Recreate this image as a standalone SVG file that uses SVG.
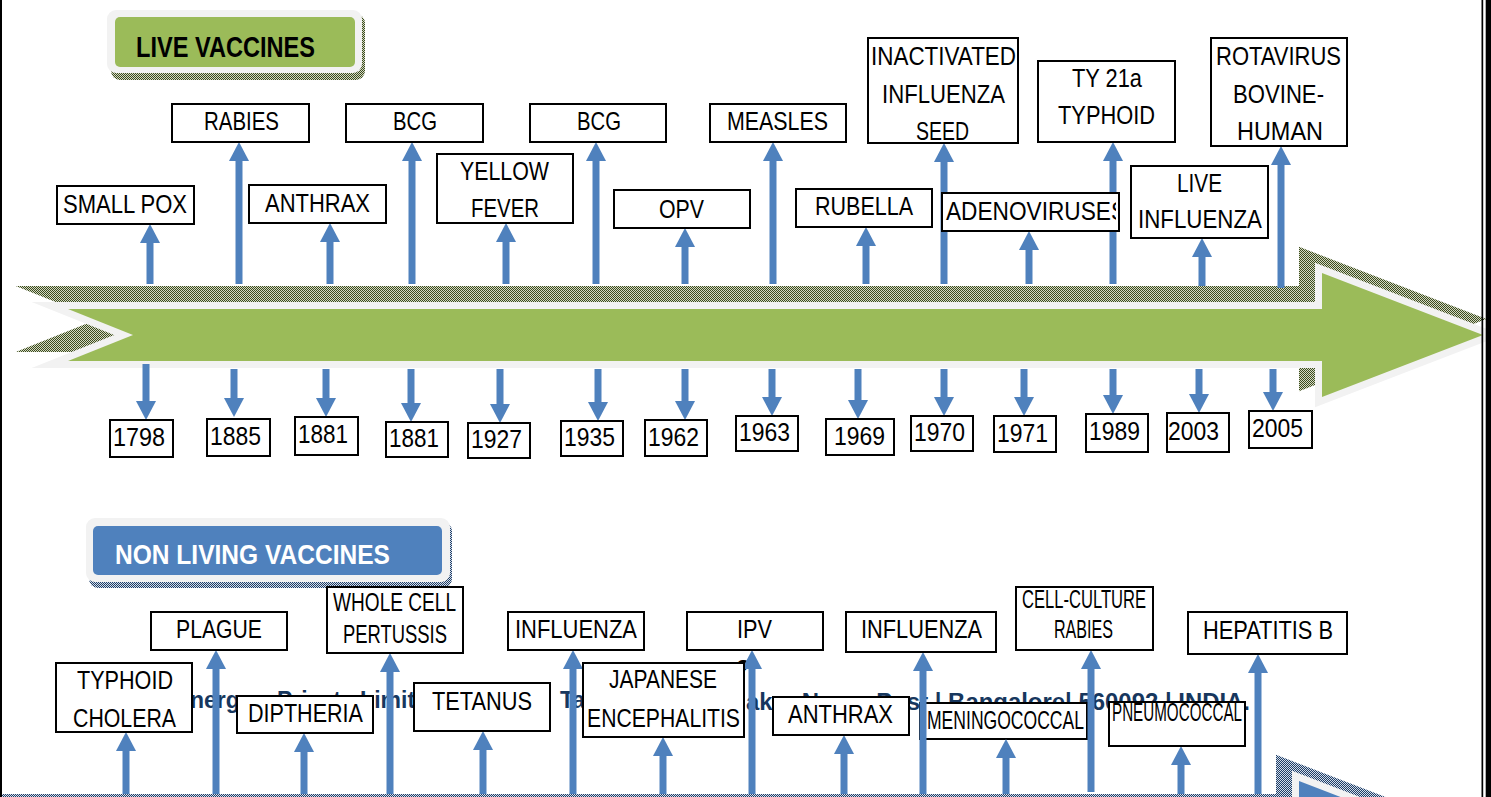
<svg xmlns="http://www.w3.org/2000/svg" width="1491" height="797" viewBox="0 0 1491 797">
<defs>
<style>
.bx{fill:#fff;stroke:#000;stroke-width:2}
.t{font-family:"Liberation Sans",Arial,sans-serif;font-size:25px;fill:#000}
.y{font-size:26px}
.c{stroke:#4f81bd;stroke-width:7;fill:none;marker-end:url(#ah)}
.wm{font-family:"Liberation Sans",Arial,sans-serif;font-size:23px;font-weight:bold;fill:#17375e}
.h{font-family:"Liberation Sans",Arial,sans-serif;font-weight:bold}
</style>
<pattern id="pg" width="2" height="2" patternUnits="userSpaceOnUse"><rect width="2" height="2" fill="#d4dac4"/><rect width="1" height="1" fill="#3c4a1e"/><rect x="1" y="1" width="1" height="1" fill="#3c4a1e"/></pattern>
<pattern id="pb" width="2" height="2" patternUnits="userSpaceOnUse"><rect width="2" height="2" fill="#d4dcea"/><rect width="1" height="1" fill="#1f3f66"/><rect x="1" y="1" width="1" height="1" fill="#1f3f66"/></pattern>
<marker id="ah" viewBox="0 -10 19 20" refX="1" refY="0" markerWidth="19" markerHeight="20" markerUnits="userSpaceOnUse" orient="auto"><path d="M0,-10 L19,0 L0,10 Z" fill="#4f81bd"/></marker>
<clipPath id="clipAdeno"><rect x="942" y="193" width="174" height="38"/></clipPath>
<path id="tl" d="M68,309 L1322,309 L1322,273 L1483,335 L1322,397 L1322,361 L68,361 L133,335 Z"/>
</defs>

<rect width="1491" height="797" fill="#fff"/>

<g id="watermark">
<text class="wm" x="190" y="708">nerg</text>
<text class="wm" x="277" y="708">Private Limited</text>
<text class="wm" x="560" y="708">Ta</text>
<text class="wm" x="746" y="710" textLength="504" lengthAdjust="spacingAndGlyphs">aker Nagar Post | Bangalore| 560092 | INDIA.</text>
<text x="736" y="677" font-family="Liberation Sans, Arial, sans-serif" font-size="24" font-weight="bold" fill="#000">?</text>
</g>

<g id="header-live">
<rect x="111" y="14" width="254" height="66" rx="9" fill="url(#pg)"/>
<rect x="107" y="10" width="255" height="63" rx="9" fill="#f2f2f2"/>
<rect x="115" y="17" width="240" height="50" rx="5" fill="#9bbb59"/>
<text class="h" x="136" y="57" font-size="29" fill="#000" textLength="179" lengthAdjust="spacingAndGlyphs">LIVE VACCINES</text>
</g>
<g id="header-nonliving">
<rect x="89" y="522" width="363" height="66" rx="9" fill="url(#pb)"/>
<rect x="86" y="518" width="364" height="64" rx="9" fill="#f2f2f2"/>
<rect x="93" y="526" width="349" height="49" rx="5" fill="#4f81bd"/>
<text class="h" x="115" y="564" font-size="27" fill="#fff" textLength="275" lengthAdjust="spacingAndGlyphs">NON LIVING VACCINES</text>
</g>

<g id="timeline-live">
<use href="#tl" transform="translate(-16,-16)" fill="url(#pg)" stroke="url(#pg)" stroke-width="14" stroke-miterlimit="10"/>
<use href="#tl" fill="#9bbb59" stroke="#f2f2f2" stroke-width="14" stroke-miterlimit="10" paint-order="stroke"/>
</g>

<g id="n-meningococcal">
<rect class="bx" x="920" y="703" width="167" height="36"/>
<text class="t" x="927" y="729" font-size="22" textLength="157" lengthAdjust="spacingAndGlyphs">MENINGOCOCCAL</text>
</g>

<g id="connectors">
<line class="c" x1="150" y1="284" x2="150" y2="242"/>
<line class="c" x1="239" y1="284" x2="239" y2="160"/>
<line class="c" x1="330" y1="284" x2="330" y2="241"/>
<line class="c" x1="412" y1="284" x2="412" y2="160"/>
<line class="c" x1="506" y1="284" x2="506" y2="241"/>
<line class="c" x1="596" y1="284" x2="596" y2="160"/>
<line class="c" x1="685" y1="284" x2="685" y2="246"/>
<line class="c" x1="773" y1="284" x2="773" y2="160"/>
<line class="c" x1="866" y1="284" x2="866" y2="245"/>
<line class="c" x1="944" y1="284" x2="944" y2="161"/>
<line class="c" x1="1029" y1="284" x2="1029" y2="249"/>
<line class="c" x1="1113" y1="284" x2="1113" y2="160"/>
<line class="c" x1="1202" y1="286" x2="1202" y2="256"/>
<line class="c" x1="1281" y1="288" x2="1281" y2="164"/>

<line class="c" x1="146" y1="364" x2="146" y2="402"/>
<line class="c" x1="234" y1="369" x2="234" y2="399"/>
<line class="c" x1="326" y1="369" x2="326" y2="399"/>
<line class="c" x1="411" y1="369" x2="411" y2="404"/>
<line class="c" x1="500" y1="369" x2="500" y2="405"/>
<line class="c" x1="598" y1="369" x2="598" y2="403"/>
<line class="c" x1="685" y1="369" x2="685" y2="402"/>
<line class="c" x1="772" y1="369" x2="772" y2="398"/>
<line class="c" x1="858" y1="369" x2="858" y2="401"/>
<line class="c" x1="944" y1="369" x2="944" y2="398"/>
<line class="c" x1="1024" y1="369" x2="1024" y2="398"/>
<line class="c" x1="1113" y1="369" x2="1113" y2="396"/>
<line class="c" x1="1199" y1="369" x2="1199" y2="395"/>
<line class="c" x1="1273" y1="369" x2="1273" y2="393"/>

<line class="c" x1="126" y1="795" x2="126" y2="750"/>
<line class="c" x1="216" y1="795" x2="216" y2="668"/>
<line class="c" x1="304" y1="795" x2="304" y2="751"/>
<line class="c" x1="390" y1="795" x2="390" y2="671"/>
<line class="c" x1="483" y1="795" x2="483" y2="749"/>
<line class="c" x1="573" y1="795" x2="573" y2="668"/>
<line class="c" x1="663" y1="797" x2="663" y2="755"/>
<line class="c" x1="752" y1="795" x2="752" y2="668"/>
<line class="c" x1="844" y1="797" x2="844" y2="753"/>
<line class="c" x1="923" y1="795" x2="923" y2="670"/>
<line class="c" x1="1006" y1="797" x2="1006" y2="757"/>
<line class="c" x1="1091" y1="792" x2="1091" y2="668"/>
<line class="c" x1="1181" y1="797" x2="1181" y2="764"/>
<line class="c" x1="1258" y1="797" x2="1258" y2="672"/>
</g>

<g id="n-smallpox"><rect class="bx" x="57" y="186" width="137" height="38"/><text class="t" x="63" y="213" textLength="124" lengthAdjust="spacingAndGlyphs">SMALL POX</text></g>
<g id="n-rabies"><rect class="bx" x="172" y="104" width="137" height="38"/><text class="t" x="204" y="130" textLength="75" lengthAdjust="spacingAndGlyphs">RABIES</text></g>
<g id="n-anthrax"><rect class="bx" x="249" y="185" width="137" height="38"/><text class="t" x="265" y="212" textLength="105" lengthAdjust="spacingAndGlyphs">ANTHRAX</text></g>
<g id="n-bcg1"><rect class="bx" x="346" y="104" width="137" height="38"/><text class="t" x="393" y="130" textLength="44" lengthAdjust="spacingAndGlyphs">BCG</text></g>
<g id="n-yellowfever"><rect class="bx" x="437" y="154" width="136" height="69"/><text class="t" x="460" y="180" textLength="89" lengthAdjust="spacingAndGlyphs">YELLOW</text><text class="t" x="471" y="217" textLength="68" lengthAdjust="spacingAndGlyphs">FEVER</text></g>
<g id="n-bcg2"><rect class="bx" x="530" y="104" width="136" height="38"/><text class="t" x="577" y="130" textLength="44" lengthAdjust="spacingAndGlyphs">BCG</text></g>
<g id="n-opv"><rect class="bx" x="614" y="190" width="136" height="38"/><text class="t" x="659" y="218" textLength="45" lengthAdjust="spacingAndGlyphs">OPV</text></g>
<g id="n-measles"><rect class="bx" x="710" y="104" width="136" height="38"/><text class="t" x="727" y="130" textLength="101" lengthAdjust="spacingAndGlyphs">MEASLES</text></g>
<g id="n-rubella"><rect class="bx" x="796" y="189" width="136" height="38"/><text class="t" x="815" y="215" textLength="98" lengthAdjust="spacingAndGlyphs">RUBELLA</text></g>
<g id="n-inactivated"><rect class="bx" x="868" y="38" width="150" height="105"/><text class="t" x="871" y="65" textLength="145" lengthAdjust="spacingAndGlyphs">INACTIVATED</text><text class="t" x="882" y="103" textLength="123" lengthAdjust="spacingAndGlyphs">INFLUENZA</text><text class="t" x="916" y="140" textLength="53" lengthAdjust="spacingAndGlyphs">SEED</text></g>
<g id="n-adenoviruses"><rect class="bx" x="942" y="193" width="177" height="38"/><text class="t" x="946" y="220" textLength="180" lengthAdjust="spacingAndGlyphs" clip-path="url(#clipAdeno)">ADENOVIRUSES</text></g>
<g id="n-ty21a"><rect class="bx" x="1038" y="61" width="137" height="81"/><text class="t" x="1072" y="87" textLength="70" lengthAdjust="spacingAndGlyphs">TY 21a</text><text class="t" x="1058" y="124" textLength="97" lengthAdjust="spacingAndGlyphs">TYPHOID</text></g>
<g id="n-liveinfluenza"><rect class="bx" x="1131" y="166" width="137" height="72"/><text class="t" x="1177" y="192" textLength="45" lengthAdjust="spacingAndGlyphs">LIVE</text><text class="t" x="1138" y="228" textLength="124" lengthAdjust="spacingAndGlyphs">INFLUENZA</text></g>
<g id="n-rotavirus"><rect class="bx" x="1211" y="38" width="136" height="108"/><text class="t" x="1216" y="65" textLength="125" lengthAdjust="spacingAndGlyphs">ROTAVIRUS</text><text class="t" x="1233" y="103" textLength="91" lengthAdjust="spacingAndGlyphs">BOVINE-</text><text class="t" x="1237" y="140" textLength="86" lengthAdjust="spacingAndGlyphs">HUMAN</text></g>

<g id="y1798"><rect class="bx" x="110" y="420" width="63" height="37"/><text class="t y" x="113" y="446" textLength="52" lengthAdjust="spacingAndGlyphs">1798</text></g>
<g id="y1885"><rect class="bx" x="207" y="419" width="63" height="37"/><text class="t y" x="210" y="445" textLength="51" lengthAdjust="spacingAndGlyphs">1885</text></g>
<g id="y1881a"><rect class="bx" x="295" y="417" width="63" height="38"/><text class="t y" x="298" y="443" textLength="50" lengthAdjust="spacingAndGlyphs">1881</text></g>
<g id="y1881b"><rect class="bx" x="386" y="422" width="62" height="35"/><text class="t y" x="389" y="447" textLength="50" lengthAdjust="spacingAndGlyphs">1881</text></g>
<g id="y1927"><rect class="bx" x="468" y="423" width="62" height="35"/><text class="t y" x="471" y="448" textLength="51" lengthAdjust="spacingAndGlyphs">1927</text></g>
<g id="y1935"><rect class="bx" x="561" y="421" width="62" height="35"/><text class="t y" x="564" y="446" textLength="51" lengthAdjust="spacingAndGlyphs">1935</text></g>
<g id="y1962"><rect class="bx" x="645" y="420" width="62" height="36"/><text class="t y" x="648" y="446" textLength="51" lengthAdjust="spacingAndGlyphs">1962</text></g>
<g id="y1963"><rect class="bx" x="736" y="416" width="62" height="35"/><text class="t y" x="739" y="441" textLength="51" lengthAdjust="spacingAndGlyphs">1963</text></g>
<g id="y1969"><rect class="bx" x="826" y="419" width="68" height="36"/><text class="t y" x="834" y="445" textLength="51" lengthAdjust="spacingAndGlyphs">1969</text></g>
<g id="y1970"><rect class="bx" x="911" y="416" width="62" height="35"/><text class="t y" x="914" y="441" textLength="51" lengthAdjust="spacingAndGlyphs">1970</text></g>
<g id="y1971"><rect class="bx" x="994" y="416" width="62" height="36"/><text class="t y" x="997" y="442" textLength="51" lengthAdjust="spacingAndGlyphs">1971</text></g>
<g id="y1989"><rect class="bx" x="1086" y="414" width="62" height="38"/><text class="t y" x="1089" y="440" textLength="51" lengthAdjust="spacingAndGlyphs">1989</text></g>
<g id="y2003"><rect class="bx" x="1167" y="413" width="62" height="39"/><text class="t y" x="1168" y="440" textLength="51" lengthAdjust="spacingAndGlyphs">2003</text></g>
<g id="y2005"><rect class="bx" x="1249" y="411" width="63" height="37"/><text class="t y" x="1252" y="437" textLength="51" lengthAdjust="spacingAndGlyphs">2005</text></g>

<g id="n-typhoidcholera"><rect class="bx" x="56" y="663" width="136" height="69"/><text class="t" x="77" y="689" textLength="96" lengthAdjust="spacingAndGlyphs">TYPHOID</text><text class="t" x="73" y="727" textLength="103" lengthAdjust="spacingAndGlyphs">CHOLERA</text></g>
<g id="n-plague"><rect class="bx" x="151" y="612" width="136" height="38"/><text class="t" x="176" y="638" textLength="86" lengthAdjust="spacingAndGlyphs">PLAGUE</text></g>
<g id="n-diptheria"><rect class="bx" x="237" y="696" width="136" height="37"/><text class="t" x="248" y="722" textLength="115" lengthAdjust="spacingAndGlyphs">DIPTHERIA</text></g>
<g id="n-pertussis"><rect class="bx" x="327" y="587" width="136" height="66"/><text class="t" x="333" y="611" font-size="23" textLength="123" lengthAdjust="spacingAndGlyphs">WHOLE CELL</text><text class="t" x="343" y="643" font-size="23" textLength="104" lengthAdjust="spacingAndGlyphs">PERTUSSIS</text></g>
<g id="n-tetanus"><rect class="bx" x="414" y="683" width="136" height="48"/><text class="t" x="432" y="710" textLength="100" lengthAdjust="spacingAndGlyphs">TETANUS</text></g>
<g id="n-influenza1"><rect class="bx" x="508" y="612" width="136" height="38"/><text class="t" x="515" y="638" textLength="122" lengthAdjust="spacingAndGlyphs">INFLUENZA</text></g>
<g id="n-japanese"><rect class="bx" x="583" y="663" width="161" height="74"/><text class="t" x="609" y="688" textLength="108" lengthAdjust="spacingAndGlyphs">JAPANESE</text><text class="t" x="587" y="727" textLength="153" lengthAdjust="spacingAndGlyphs">ENCEPHALITIS</text></g>
<g id="n-ipv"><rect class="bx" x="687" y="612" width="136" height="38"/><text class="t" x="737" y="638" textLength="35" lengthAdjust="spacingAndGlyphs">IPV</text></g>
<g id="n-anthrax2"><rect class="bx" x="773" y="697" width="136" height="38"/><text class="t" x="788" y="723" textLength="105" lengthAdjust="spacingAndGlyphs">ANTHRAX</text></g>
<g id="n-influenza2"><rect class="bx" x="846" y="612" width="150" height="40"/><text class="t" x="861" y="638" textLength="121" lengthAdjust="spacingAndGlyphs">INFLUENZA</text></g>
<g id="n-cellculture"><rect class="bx" x="1016" y="587" width="137" height="63"/><text class="t" x="1022" y="608" font-size="20" textLength="124" lengthAdjust="spacingAndGlyphs">CELL-CULTURE</text><text class="t" x="1054" y="638" font-size="20" textLength="59" lengthAdjust="spacingAndGlyphs">RABIES</text></g>
<g id="n-pneumococcal"><rect class="bx" x="1109" y="702" width="136" height="44"/><text class="t" x="1112" y="721" font-size="18" textLength="130" lengthAdjust="spacingAndGlyphs">PNEUMOCOCCAL</text></g>
<g id="n-hepatitisb"><rect class="bx" x="1188" y="612" width="159" height="42"/><text class="t" x="1203" y="639" textLength="130" lengthAdjust="spacingAndGlyphs">HEPATITIS B</text></g>

<g id="timeline-nonliving" transform="translate(-23,508)">
<use href="#tl" transform="translate(-16,-16)" fill="url(#pb)" stroke="url(#pb)" stroke-width="14" stroke-miterlimit="10"/>
<use href="#tl" fill="#4f81bd" stroke="#f2f2f2" stroke-width="14" stroke-miterlimit="10" paint-order="stroke"/>
</g>

<rect x="0" y="0" width="2" height="797" fill="#000"/>
<rect x="1481.5" y="0" width="1.7" height="797" fill="#000"/>
<rect x="1485.7" y="0" width="5.3" height="797" fill="#000"/>
</svg>
